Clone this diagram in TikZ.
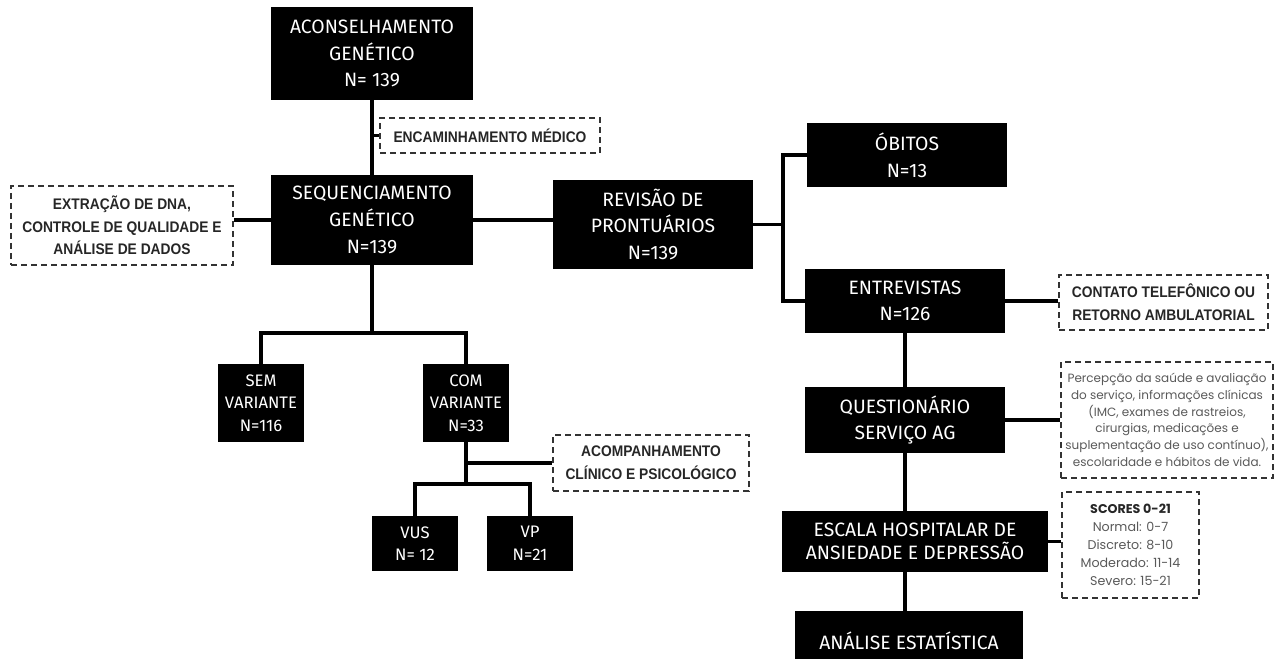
\documentclass[tikz,border=0pt]{standalone}
\usepackage{fontspec}
\setmainfont{Fira Sans}
\newfontfamily\notefont[FakeStretch=0.9]{Liberation Sans}
\newfontfamily\infofont{Poppins}
\usepackage{tikz}
\usetikzlibrary{positioning}

\begin{document}
\begin{tikzpicture}[
  x=0.75pt, y=-0.75pt,
  stage/.style={fill=black, text=white, align=center, inner sep=2pt,
                font=\fontsize{14.5}{20}\selectfont},
  substage/.style={stage, font=\fontsize{12.5}{17}\selectfont},
  note/.style={draw=black!80, dashed, dash pattern=on 4.5pt off 3pt,
               line width=1.8pt, align=center, inner sep=2pt, text=black!85,
               font=\notefont\bfseries\fontsize{11.5}{17}\selectfont},
  info/.style={note, text=black!65, font=\infofont\fontsize{9}{12.5}\selectfont},
  link/.style={line width=2.4pt, draw=black}
]
  \useasboundingbox (0,0) rectangle (1284,659);
  \clip (0,0) rectangle (1284,659);

  % main stages
  \node[stage, minimum width=151.5pt, minimum height=69.75pt] (aco) at (372,53.5)
    {ACONSELHAMENTO\\GENÉTICO\\N= 139};
  \node[stage, minimum width=151.5pt, minimum height=67.5pt] (seq) at (372,220)
    {SEQUENCIAMENTO\\GENÉTICO\\N=139};
  \node[stage, minimum width=150pt, minimum height=66.75pt] (rev) at (653,224.5)
    {REVISÃO DE\\PRONTUÁRIOS\\N=139};
  \node[stage, minimum width=150pt, minimum height=48pt] (obi) at (907,155)
    {ÓBITOS\\N=13};
  \node[stage, minimum width=150pt, minimum height=48pt] (ent) at (905,301)
    {ENTREVISTAS\\N=126};
  \node[stage, minimum width=150pt, minimum height=49.5pt] (que) at (905,420)
    {QUESTIONÁRIO\\SERVIÇO AG};
  \node[stage, minimum width=199.5pt, minimum height=45.75pt,
        font=\fontsize{14.5}{17.5}\selectfont] (esc) at (915,541.5)
    {ESCALA HOSPITALAR DE\\ANSIEDADE E DEPRESSÃO};
  \node[stage, minimum width=171pt, minimum height=45pt] (ana) at (909,641)
    {ANÁLISE ESTATÍSTICA};

  % variant groups
  \node[substage, minimum width=64.5pt, minimum height=58.5pt] (sem) at (261,403)
    {SEM\\VARIANTE\\N=116};
  \node[substage, minimum width=64.5pt, minimum height=58.5pt] (com) at (466,403)
    {COM\\VARIANTE\\N=33};
  \node[substage, minimum width=64.5pt, minimum height=41.25pt] (vus) at (415,543.5)
    {VUS\\N= 12};
  \node[substage, minimum width=64.5pt, minimum height=41.25pt] (vp) at (530,543.5)
    {VP\\N=21};

  % notes
  \node[note, minimum width=165pt, minimum height=26.25pt] (enc) at (490,135.5)
    {ENCAMINHAMENTO MÉDICO};
  \node[note, minimum width=166.5pt, minimum height=59.25pt] (ext) at (122,225.5)
    {EXTRAÇÃO DE DNA,\\CONTROLE DE QUALIDADE E\\ANÁLISE DE DADOS};
  \node[note, minimum width=147pt, minimum height=42pt] (acp) at (651,463)
    {ACOMPANHAMENTO\\CLÍNICO E PSICOLÓGICO};
  \node[note, minimum width=156.75pt, minimum height=41.25pt] (cnt) at (1163.5,302.5)
    {CONTATO TELEFÔNICO OU\\RETORNO AMBULATORIAL};
  \node[info, minimum width=159pt, minimum height=87pt] (qin) at (1167,420)
    {Percepção da saúde e avaliação\\do serviço, informações clínicas\\(IMC, exames de rastreios,\\cirurgias, medicações e\\suplementação de uso contínuo),\\escolaridade e hábitos de vida.};
  \node[info, minimum width=102.75pt, minimum height=79.5pt,
        font=\infofont\fontsize{9.5}{13.5}\selectfont] (scr) at (1130.5,545)
    {\textcolor{black!85}{\textbf{SCORES 0-21}}\\Normal: 0-7\\Discreto: 8-10\\Moderado: 11-14\\Severo: 15-21};

  \coordinate (split) at (372,333);
  \coordinate (split2) at (466,484);
  \coordinate (fork) at (783,224.5);

  \draw[link] (aco) -- (seq);
  \draw[link] (aco.south |- enc.west) -- (enc.west);
  \draw[link] (seq.west) -- (seq.west -| ext.east);
  \draw[link] (seq.east) -- (seq.east -| rev.west);
  \draw[link] (seq) -- (split);
  \draw[link] (sem.north) |- (split) -| (com.north);
  \draw[link] (com) -- (split2);
  \draw[link] (vus.north) |- (split2) -| (vp.north);
  \draw[link] (com.south |- acp.west) -- (acp.west);
  \draw[link] (rev.east) -- (fork);
  \draw[link] (obi.west) -| (fork) |- (ent.west);
  \draw[link] (ent.east) -- (ent.east -| cnt.west);
  \draw[link] (ent) -- (que);
  \draw[link] (que.east) -- (que.east -| qin.west);
  \draw[link] (que.south) -- (que.south |- esc.north);
  \draw[link] (esc.east) -- (esc.east -| scr.west);
  \draw[link] (que.south |- esc.south) -- (que.south |- ana.north);
\end{tikzpicture}
\end{document}
